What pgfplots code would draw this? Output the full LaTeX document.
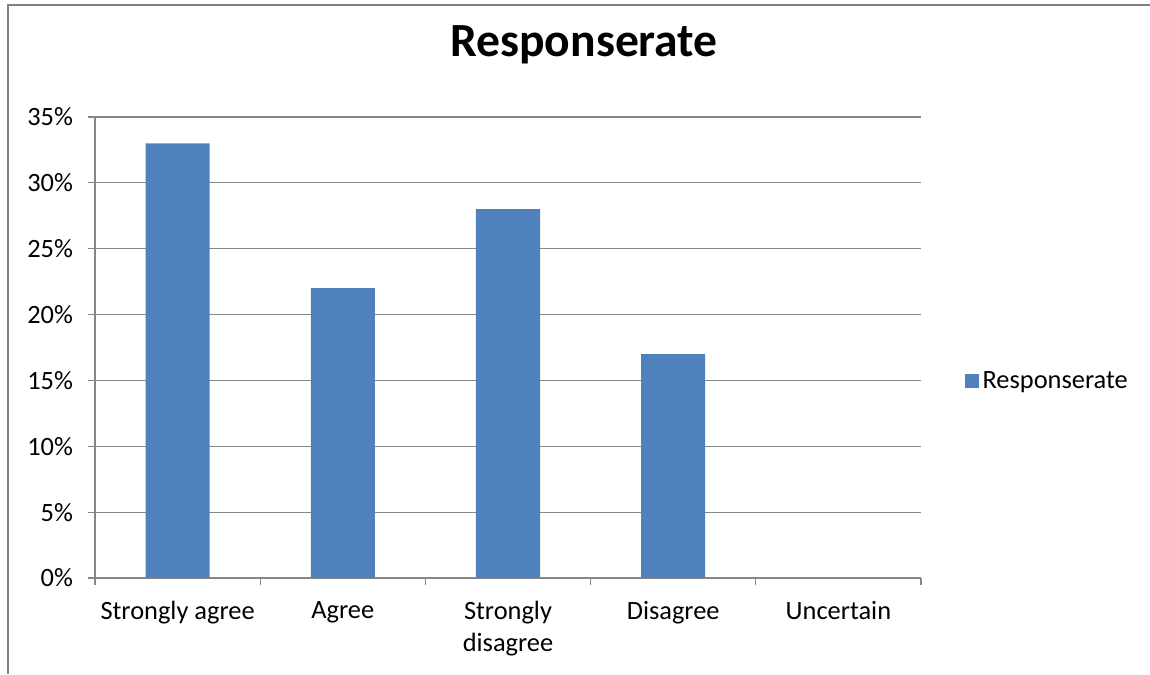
\documentclass[border=0pt]{standalone}
\usepackage{pgfplots}
\pgfplotsset{compat=1.18}
\usepackage{fontspec}
\setmainfont{Carlito}
\definecolor{barblue}{RGB}{79,129,189}
\definecolor{gridgray}{RGB}{134,134,134}
\definecolor{framegray}{RGB}{128,128,128}
\begin{document}
\begin{tikzpicture}
\path[use as bounding box] (0,0) rectangle (575pt,337pt);
\draw[framegray, line width=1pt] (4pt,0) -- (4pt,334.5pt) -- (575pt,334.5pt);
\begin{axis}[
  at={(47.5pt,48pt)}, anchor=south west,
  scale only axis, width=413pt, height=230.5pt,
  ymin=0, ymax=35, ytick={0,5,...,35},
  xmin=-0.5, xmax=4.5,
  xtick={-0.5,0.5,...,4.5}, xticklabels={,,,,,},
  extra x ticks={0,1,2,3,4},
  extra x tick labels={Strongly agree, Agree, {Strongly\\disagree}, Disagree, Uncertain},
  extra x tick style={major tick length=0pt, tick label style={align=center, yshift=-8pt}},
  yticklabel={\pgfmathprintnumber[assume math mode=true]{\tick}\%},
  yticklabel style={xshift=-4pt},
  axis x line*=bottom, axis y line*=left,
  axis line style={gridgray, line width=0.6pt},
  tick style={gridgray, line width=0.6pt},
  major tick length=3.5pt, tick align=outside,
  ymajorgrids, y grid style={gridgray, line width=0.6pt},
  tick label style={font=\fontsize{13.2}{16}\selectfont},
  ybar, bar width=32pt,
  title={Responserate},
  title style={font=\bfseries\fontsize{23.8}{28}\selectfont, at={(0.592,1.13)}, anchor=center},
  legend style={at={(1.045,0.427)}, anchor=west, draw=none, font=\fontsize{13.2}{16}\selectfont},
  legend image code/.code={\fill[barblue] (0pt,-3.5pt) rectangle (7pt,3.5pt);},
]
\addplot[fill=barblue, draw=none] coordinates {(0,33) (1,22) (2,28) (3,17) (4,0)};
\addlegendentry{Responserate}
\end{axis}
\end{tikzpicture}
\end{document}
